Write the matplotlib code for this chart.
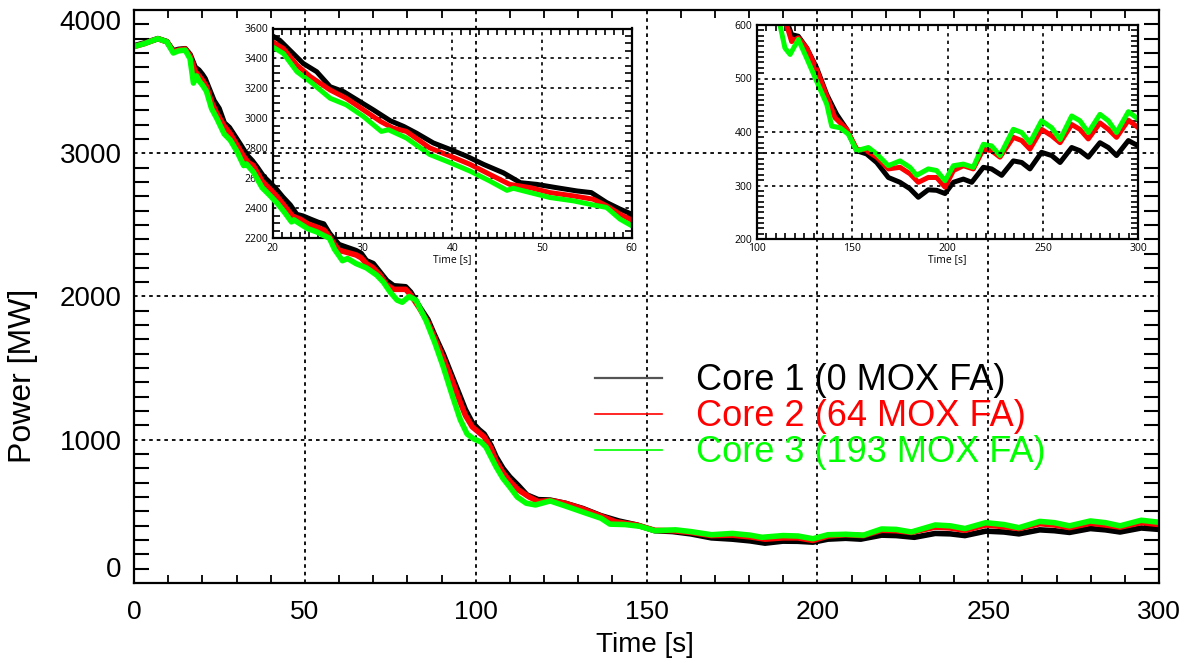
import matplotlib
matplotlib.use("Agg")
import matplotlib.pyplot as plt
from matplotlib.lines import Line2D
from matplotlib.ticker import MultipleLocator

# ---------------- data ----------------
t_core1 = [0, 3, 7, 9.6, 11.5, 13, 15, 16.4, 17.9, 19, 20, 20.8, 22.1, 23.4, 24.9, 26.4, 27.9, 29.4,
           31.2, 33.1, 34.6, 36.0, 37.9, 39.8, 41.6, 43.5, 45.7, 47.6, 49.4, 51.6, 53.9, 55.5, 57.2,
           58.7, 60, 62, 65, 66.5, 68, 70, 72, 74, 76, 79.5, 81, 83.5, 86, 88, 90.5, 93, 95.5, 97,
           99, 101, 102.5, 104.5, 106, 108, 110, 112.5, 115, 118.3, 121.8, 126.2, 131.4, 136.7,
           141.9, 147.2, 152.4, 157.6, 162.9, 169.0, 175.1, 180.3, 184.7, 189.9, 194.3, 198.7,
           203.1, 208.3, 212.7, 218.8, 223.1, 228.4, 234.5, 238.9, 243.2, 249.3, 254.6, 259.0,
           265.1, 269.4, 273.8, 279.9, 284.3, 288.6, 294.8, 300]
p_core1 = [3750, 3770, 3800, 3780, 3715, 3725, 3730, 3690, 3600, 3580, 3550, 3521, 3444, 3367, 3312,
           3212, 3179, 3124, 3058, 2985, 2947, 2903, 2837, 2793, 2749, 2694, 2638, 2572, 2561, 2539,
           2517, 2506, 2440, 2396, 2362, 2345, 2320, 2300, 2250, 2230, 2170, 2110, 2075, 2068, 2030,
           1930, 1840, 1730, 1600, 1450, 1300, 1210, 1120, 1070, 1040, 960, 880, 800, 740, 680, 615,
           582, 579, 557, 520, 470, 433, 405, 365, 359, 343, 315, 306, 294, 278, 292, 291, 285, 306,
           312, 306, 334, 331, 319, 346, 343, 331, 362, 356, 343, 371, 365, 353, 380, 371, 356, 384,
           374]

t_core2 = [0, 3, 7, 9.6, 11.5, 13, 15, 16.4, 17.9, 19, 20, 21.2, 22.7, 24.2, 26.4, 28.2, 30.1, 32.0,
           33.4, 34.9, 37.5, 39.8, 42.0, 44.2, 46.4, 48.7, 50.9, 53.5, 55.7, 57.2, 58.7, 60, 62, 65,
           66.5, 68, 70, 72, 74, 76, 79.5, 81, 83.5, 86, 88, 90.5, 93, 95.5, 97, 99, 101, 102.5,
           104.5, 106, 108, 110, 112.5, 115.7, 118.3, 121.8, 126.2, 131.4, 136.7, 141.0, 147.2,
           152.4, 157.6, 162.9, 169.0, 175.1, 180.3, 184.7, 189.9, 194.3, 198.7, 203.1, 208.3,
           213.5, 218.8, 223.1, 227.5, 234.5, 238.9, 243.2, 249.3, 254.6, 259.0, 265.1, 269.4,
           273.8, 279.9, 284.3, 288.6, 294.8, 300]
p_core2 = [3745, 3765, 3800, 3778, 3710, 3720, 3728, 3680, 3570, 3540, 3510, 3466, 3356, 3279, 3190,
           3135, 3058, 2981, 2936, 2914, 2804, 2749, 2694, 2627, 2561, 2539, 2506, 2484, 2462, 2418,
           2362, 2323, 2310, 2290, 2270, 2230, 2200, 2150, 2080, 2050, 2050, 2010, 1920, 1820, 1710,
           1570, 1420, 1260, 1170, 1090, 1050, 1020, 940, 850, 770, 710, 650, 600, 569, 576, 557,
           517, 467, 427, 405, 368, 365, 353, 331, 334, 322, 306, 315, 315, 297, 328, 337, 331, 368,
           365, 353, 390, 384, 368, 405, 393, 380, 414, 405, 387, 417, 405, 390, 422, 408]

t_core3 = [0, 3, 7, 9.6, 11.5, 13, 15, 16.4, 17.4, 18.3, 19.2, 20, 21.2, 22.7, 24.2, 26.4, 28.2,
           30.1, 32.1, 32.9, 34.9, 37.5, 39.8, 42.0, 44.2, 46.1, 46.8, 48.7, 50.9, 53.5, 55.7, 57.2,
           58.7, 60, 61, 62.5, 65, 68, 71, 73, 75, 77, 78.5, 80.5, 82.5, 85.5, 88, 90.5, 93, 95.5,
           97.5, 99.5, 101.5, 103, 104.5, 106, 108, 110, 112.2, 114.8, 117.5, 121.8, 126.2, 131.4,
           136.7, 139.3, 143.7, 148.0, 152.4, 158.5, 162.9, 169.0, 175.1, 180.3, 183.8, 189.9,
           194.3, 198.7, 203.1, 208.3, 213.5, 218.8, 223.1, 227.5, 234.5, 238.9, 243.2, 249.3,
           254.6, 259.0, 265.1, 269.4, 273.8, 279.9, 284.3, 288.6, 294.8, 300]
p_core3 = [3745, 3765, 3800, 3778, 3700, 3715, 3720, 3660, 3490, 3540, 3500, 3477, 3433, 3312, 3245,
           3135, 3091, 3014, 2914, 2925, 2870, 2760, 2705, 2649, 2583, 2521, 2535, 2506, 2473, 2451,
           2424, 2407, 2329, 2285, 2250, 2265, 2230, 2200, 2150, 2100, 2030, 1975, 1960, 2000, 1975,
           1830, 1680, 1510, 1320, 1140, 1040, 1005, 985, 950, 880, 810, 730, 670, 600, 557, 545,
           573, 538, 495, 452, 411, 408, 396, 365, 371, 359, 337, 346, 334, 319, 331, 328, 309, 337,
           340, 334, 377, 374, 356, 405, 399, 380, 421, 408, 386, 430, 421, 399, 433, 421, 399, 438,
           424]

labels = ["Core 1 (0 MOX FA)", "Core 2 (64 MOX FA)", "Core 3 (193 MOX FA)"]
colors = ["#000000", "#ff0000", "#00ff00"]
legend_line_colors = ["#555555", "#ff0000", "#00ff00"]

main_xticks = [0, 50, 100, 150, 200, 250, 300]
main_yticks = [0, 1000, 2000, 3000, 4000]
inset1_xticks = [20, 30, 40, 50, 60]
inset1_yticks = [2200, 2400, 2600, 2800, 3000, 3200, 3400, 3600]
inset2_xticks = [100, 150, 200, 250, 300]
inset2_yticks = [200, 300, 400, 500, 600]

series = [(t_core1, p_core1), (t_core2, p_core2), (t_core3, p_core3)]

# ---------------- figure ----------------
plt.rcParams['font.family'] = ['Liberation Sans', 'DejaVu Sans']
fig = plt.figure(figsize=(11.93, 6.65), dpi=100)
fig.patch.set_facecolor('white')

W, H = 1193.0, 665.0
ax = fig.add_axes([134 / W, 1 - 583 / H, (1159 - 134) / W, (583 - 10) / H], zorder=2)
ax.set_facecolor('none')

for (t, p), c in zip(series, colors):
    ax.plot(t, p, color=c, lw=4.0, solid_capstyle='round', solid_joinstyle='round')

ax.set_xlim(0, 300)
ax.set_ylim(0, 4000)
ax.set_xticks(main_xticks)
ax.set_yticks(main_yticks)
ax.xaxis.set_minor_locator(MultipleLocator(10))
ax.yaxis.set_minor_locator(MultipleLocator(100))
ax.tick_params(which='major', length=0)
ax.tick_params(axis='x', which='minor', direction='in', length=6, width=1.3, top=True, bottom=True)
ax.tick_params(axis='y', which='minor', direction='in', length=11, width=1.5, left=True, right=True)
ax.tick_params(axis='x', which='major', pad=12, labelsize=19)
ax.tick_params(axis='y', which='major', pad=9, labelsize=20)
ylabs = ax.get_yticklabels()
ylabs[0].set_verticalalignment('bottom')
ylabs[-1].set_verticalalignment('top')
for s in ax.spines.values():
    s.set_linewidth(1.6)
ax.grid(True, which='major', color='black', linestyle=(0, (2, 2.2)), linewidth=1.3)
xg = ax.get_xgridlines()
yg = ax.get_ygridlines()
for g in (xg[0], xg[-1], yg[0], yg[-1]):
    g.set_visible(False)

ax.set_xlabel("Time [s]", fontsize=20)
ax.xaxis.set_label_coords(0.4985, -0.086)
ax.set_ylabel("Power [MW]", fontsize=23)
ax.yaxis.set_label_coords(-0.094, 0.361)

handles = [Line2D([], [], color=c, lw=lw) for c, lw in zip(legend_line_colors, [1.6, 1.2, 1.2])]
leg = ax.legend(handles, labels, loc='center left', bbox_to_anchor=(0.4498, 0.290),
                frameon=False, fontsize=26, handlelength=1.85, handletextpad=0.95,
                labelspacing=0.03, borderpad=0, borderaxespad=0)
for txt, c in zip(leg.get_texts(), colors):
    txt.set_color(c)


def make_inset(rect, xlim, ylim, xticks, yticks, xminor, yminor):
    ia = fig.add_axes(rect, zorder=1)
    ia.set_facecolor('none')
    for (t, p), c in zip(series, colors):
        ia.plot(t, p, color=c, lw=3.6, solid_capstyle='round', solid_joinstyle='round')
    ia.set_xlim(*xlim)
    ia.set_ylim(*ylim)
    ia.set_xticks(xticks)
    ia.set_yticks(yticks)
    ia.xaxis.set_minor_locator(MultipleLocator(xminor))
    ia.yaxis.set_minor_locator(MultipleLocator(yminor))
    ia.tick_params(which='major', length=0, labelsize=7.5, pad=3)
    ia.tick_params(axis='x', which='minor', direction='in', length=4, width=1.2, top=True, bottom=True)
    ia.tick_params(axis='y', which='minor', direction='in', length=5, width=1.2, left=True, right=True)
    for lab in ia.get_xticklabels() + ia.get_yticklabels():
        lab.set_family(['Open Sans', 'DejaVu Sans'])
    for s in ia.spines.values():
        s.set_linewidth(1.6)
    ia.grid(True, which='major', color='black', linestyle=(0, (2, 2.5)), linewidth=1.2)
    xg = ia.get_xgridlines()
    yg = ia.get_ygridlines()
    for g in (xg[0], xg[-1], yg[0], yg[-1]):
        g.set_visible(False)
    ia.set_xlabel("Time [s]", fontsize=7.5, family=['Open Sans', 'DejaVu Sans'], labelpad=0)
    return ia


make_inset([272.7 / W, 1 - 238.5 / H, (631.7 - 272.7) / W, (238.5 - 28.5) / H],
           (20, 60), (2200, 3600), inset1_xticks, inset1_yticks, 1, 50)
make_inset([756.7 / W, 1 - 239 / H, (1138.3 - 756.7) / W, (239 - 25) / H],
           (100, 300), (200, 600), inset2_xticks, inset2_yticks, 5, 10)

fig.savefig("out.png", dpi=100, facecolor='white')
